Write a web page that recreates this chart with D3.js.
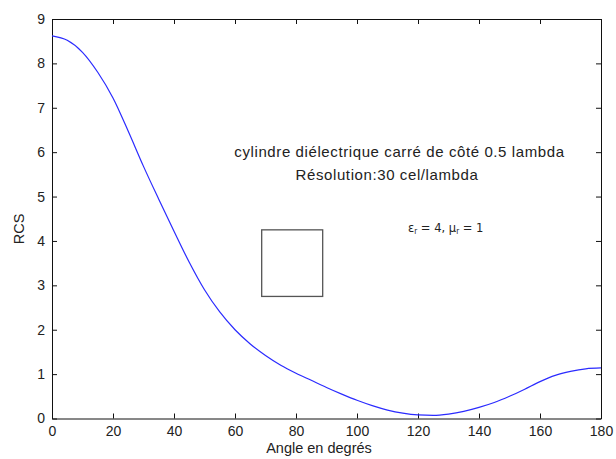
<!DOCTYPE html>
<html>
<head>
<meta charset="utf-8">
<script src="https://cdn.jsdelivr.net/npm/d3@7"></script>
<style>
  body { margin: 0; background: #fff; }
  text { font-family: "Liberation Sans", Arial, sans-serif; fill: #222; }
</style>
</head>
<body>
<div id="chart-area"></div>
<script>
// RCS vs angle, dielectric square cylinder

const angles = [0, 5, 10, 15, 20, 25, 30, 35, 40, 45, 50, 55, 60, 65, 70, 75, 80, 85, 90,
  95, 100, 105, 110, 115, 120, 125, 130, 135, 140, 145, 150, 155, 160, 165, 170, 175, 180]
const rcs = [8.62, 8.52, 8.25, 7.8, 7.22, 6.47, 5.68, 4.94, 4.22, 3.52, 2.9, 2.4, 2.0, 1.68,
  1.42, 1.2, 1.02, 0.86, 0.7, 0.55, 0.41, 0.29, 0.19, 0.12, 0.08, 0.07, 0.1, 0.16, 0.25, 0.36,
  0.5, 0.66, 0.83, 0.97, 1.06, 1.12, 1.14]
const xTicks = [0, 20, 40, 60, 80, 100, 120, 140, 160, 180]
const yTicks = [0, 1, 2, 3, 4, 5, 6, 7, 8, 9]
// square drawn inside the plot (data units)
const square = { x0: 68.75, x1: 88.75, y0: 2.75, y1: 4.25 }

const MARGIN = { LEFT: 52, RIGHT: 15, TOP: 19, BOTTOM: 40.5 }
const WIDTH = 616 - MARGIN.LEFT - MARGIN.RIGHT
const HEIGHT = 459 - MARGIN.TOP - MARGIN.BOTTOM

const svg = d3.select("#chart-area").append("svg")
    .attr("width", 616)
    .attr("height", 459)

const g = svg.append("g")
    .attr("transform", `translate(${MARGIN.LEFT}, ${MARGIN.TOP})`)

const x = d3.scaleLinear().domain([0, 180]).range([0, WIDTH])
const y = d3.scaleLinear().domain([0, 9]).range([HEIGHT, 0])

// axes with ticks pointing inward, mirrored on top/right
g.append("g")
    .attr("transform", `translate(0, ${HEIGHT})`)
    .call(d3.axisBottom(x).tickValues(xTicks).tickSizeInner(-5).tickSizeOuter(0).tickPadding(8))
g.append("g")
    .call(d3.axisLeft(y).tickValues(yTicks).tickSizeInner(-5).tickSizeOuter(0).tickPadding(7))
g.append("g")
    .call(d3.axisTop(x).tickValues(xTicks).tickSizeInner(-5).tickSizeOuter(0).tickFormat(""))
g.append("g")
    .attr("transform", `translate(${WIDTH}, 0)`)
    .call(d3.axisRight(y).tickValues(yTicks).tickSizeInner(-5).tickSizeOuter(0).tickFormat(""))

g.selectAll(".domain").attr("stroke", "#111")
g.selectAll(".tick line").attr("stroke", "#111")
g.selectAll(".tick text")
    .attr("font-size", "14px")
    .attr("font-family", "Liberation Sans, Arial, sans-serif")
    .attr("fill", "#222")

// curve
const line = d3.line()
    .x((d, i) => x(angles[i]))
    .y(d => y(d))
    .curve(d3.curveMonotoneX)
g.append("path")
    .datum(rcs)
    .attr("fill", "none")
    .attr("stroke", "#2b2bff")
    .attr("stroke-width", 1.2)
    .attr("d", line)

// square
g.append("rect")
    .attr("x", x(square.x0))
    .attr("y", y(square.y1))
    .attr("width", x(square.x1) - x(square.x0))
    .attr("height", y(square.y0) - y(square.y1))
    .attr("fill", "none")
    .attr("stroke", "#555")
    .attr("stroke-width", 1.3)

// annotations
svg.append("text")
    .attr("x", 399.5).attr("y", 157)
    .attr("text-anchor", "middle")
    .attr("font-size", "15px")
    .attr("letter-spacing", "0.6px")
    .text("cylindre diélectrique carré de côté 0.5 lambda")
svg.append("text")
    .attr("x", 387).attr("y", 180)
    .attr("text-anchor", "middle")
    .attr("font-size", "15px")
    .attr("letter-spacing", "0.6px")
    .text("Résolution:30 cel/lambda")

const eps = svg.append("text")
    .attr("x", 408).attr("y", 232)
    .attr("font-size", "12.8px")
    .style("font-family", "'DejaVu Sans Condensed', 'Liberation Sans Narrow', sans-serif")
eps.append("tspan").text("ε")
eps.append("tspan").attr("font-size", "8px").attr("dy", 2).text("r")
eps.append("tspan").attr("dy", -2).text(" = 4, μ")
eps.append("tspan").attr("font-size", "8px").attr("dy", 2).text("r")
eps.append("tspan").attr("dy", -2).text(" = 1")

// axis labels
svg.append("text")
    .attr("x", 319).attr("y", 453)
    .attr("text-anchor", "middle")
    .attr("font-size", "14.5px")
    .text("Angle en degrés")
svg.append("text")
    .attr("transform", "translate(24, 229) rotate(-90)")
    .attr("text-anchor", "middle")
    .attr("font-size", "14.5px")
    .text("RCS")
</script>
</body>
</html>
